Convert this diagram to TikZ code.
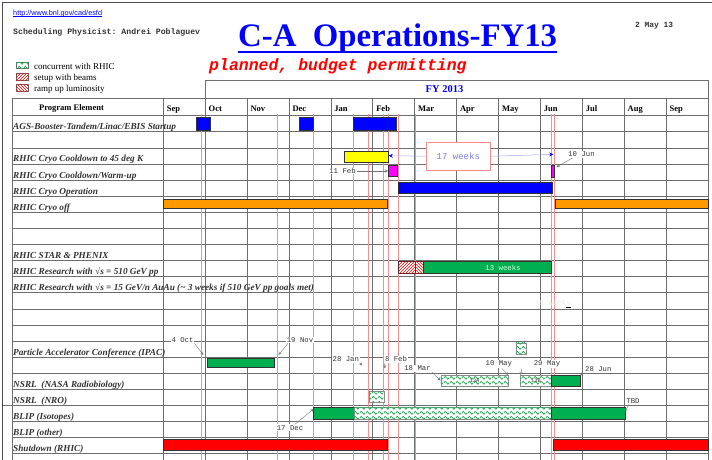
\documentclass[tikz,border=0pt]{standalone}
\usepackage{fontspec}
\setmainfont{Liberation Serif}
\setsansfont{Liberation Sans}
\setmonofont{Liberation Mono}
\usetikzlibrary{patterns,arrows.meta}

\definecolor{barblue}{HTML}{0000FF}
\definecolor{baryellow}{HTML}{FFFF00}
\definecolor{barmagenta}{HTML}{FF00FF}
\definecolor{barorange}{HTML}{FF9900}
\definecolor{bargreen}{HTML}{00B050}
\definecolor{barred}{HTML}{FF0000}
\definecolor{gridgray}{HTML}{6E6E6E}
\definecolor{daterule}{HTML}{FF8C8C}
\definecolor{wavegreen}{HTML}{2EAA5A}
\definecolor{weekblue}{HTML}{7F7FF0}
\definecolor{boxpink}{HTML}{FF8A8A}

% 波纹图案（与 RHIC 并行）
\pgfdeclarepatternformonly{waves}{\pgfqpoint{0pt}{0pt}}{\pgfqpoint{6pt}{5pt}}{\pgfqpoint{6pt}{5pt}}{%
  \pgfsetlinewidth{0.9pt}%
  \pgfpathmoveto{\pgfqpoint{0pt}{2.5pt}}%
  \pgfpathcurveto{\pgfqpoint{1pt}{4.6pt}}{\pgfqpoint{2pt}{4.6pt}}{\pgfqpoint{3pt}{2.5pt}}%
  \pgfpathcurveto{\pgfqpoint{4pt}{0.4pt}}{\pgfqpoint{5pt}{0.4pt}}{\pgfqpoint{6pt}{2.5pt}}%
  \pgfusepath{stroke}%
}

\begin{document}
\begin{tikzpicture}[x=1pt, y=-1pt, >=stealth,
    grid/.style={gridgray, line width=0.7pt},
    dateline/.style={daterule, line width=0.5pt},
    ganttbar/.style={draw=black!80, line width=0.5pt},
    wavebar/.style={draw=black!45, line width=0.4pt, fill=white, postaction={pattern=waves, pattern color=wavegreen}},
    rowlabel/.style={anchor=base west, inner sep=0pt, text=black!80, font=\fontsize{9.25}{11}\selectfont\bfseries\itshape},
    monthlabel/.style={anchor=base west, inner sep=0pt, font=\fontsize{8.5}{10}\selectfont\bfseries},
    legendtext/.style={anchor=base west, inner sep=0pt, font=\fontsize{9}{10}\selectfont},
    datelabel/.style={fill=white, inner sep=0.8pt, text=black!80, font=\fontsize{7.3}{8}\selectfont\ttfamily},
    datearrow/.style={->, black!55, line width=0.4pt},
    weekarrow/.style={-{Stealth[length=4pt, width=4pt, color=barblue]}, weekblue!70, line width=0.5pt}]
				% 1. 外框与页眉
				\useasboundingbox (0,0) rectangle (712,460);
				\draw[black!70, line width=1.6pt] (2.5,460) -- (2.5,2.5) -- (712,2.5);
				\draw[grid] (2.5,405.5) -- (12,405.5);
				
				\node[anchor=base west, inner sep=0pt, text=barblue, font=\sffamily\fontsize{7.3}{8}\selectfont] (url) at (13,15.5) {http://www.bnl.gov/cad/esfd};
				\draw[barblue, line width=0.4pt] ([yshift=-1.2pt]url.base west) -- ([yshift=-1.2pt]url.base east);
				\node[anchor=base west, inner sep=0pt, text=black!80, font=\ttfamily\bfseries\fontsize{8.2}{9}\selectfont] (physicist) at (13,34.5) {Scheduling Physicist: Andrei Poblaguev};
				\node[anchor=base west, inner sep=0pt, text=black!80, font=\ttfamily\bfseries\fontsize{7.9}{9}\selectfont] (issued) at (635,28) {2 May 13};
				
				\node[anchor=base west, inner sep=0pt, text=barblue, font=\fontsize{32.8}{34}\selectfont\bfseries] (title) at (238,46.7) {C-A\ \ Operations-FY13};
				\draw[barblue, line width=2pt] ([yshift=-5pt]title.base west) -- ([yshift=-5pt]title.base east);
				\node[anchor=base west, inner sep=0pt, text=barred, font=\ttfamily\bfseries\itshape\fontsize{16.5}{18}\selectfont] (subtitle) at (209,70.5) {planned, budget permitting};
				
				% 2. 图例
				\draw[wavebar, draw=black!60] (16,62.3) rectangle (28.3,68.3);
				\draw[draw=black!60, line width=0.4pt, fill=white, postaction={pattern=north east lines, pattern color=barred}] (16,73.3) rectangle (28.3,80);
				\draw[draw=black!60, line width=0.4pt, fill=white, postaction={pattern=north west lines, pattern color=barred}] (16,84.3) rectangle (28.3,91);
				\node[legendtext] (legconc) at (34,70) {concurrent with RHIC};
				\node[legendtext] (legsetup) at (34,81) {setup with beams};
				\node[legendtext] (legramp) at (34,92) {ramp up luminosity};
				
				% 3. 表格网格
				\draw[grid] (205.2,98.3) -- (205.2,80.7) -- (708,80.7) -- (708,98.3);
				\node[inner sep=0pt, text=barblue, font=\fontsize{10.5}{12}\selectfont\bfseries] (fy) at (444.5,89.3) {FY 2013};
				\draw[grid] (12,98.3) -- (708,98.3);
				\foreach \k in {0,...,21}
					\draw[grid] (12,{115.7+16.1*\k}) -- (708,{115.7+16.1*\k});
				\draw[grid] (12,98.3) -- (12,460);
				\foreach \k in {0,...,13}
					\draw[grid] ({163.3+41.9*\k},98.3) -- ({163.3+41.9*\k},460);
				
				\node[monthlabel, anchor=base] (progel) at (71.5,110.5) {Program Element};
				\foreach \m [count=\k from 0] in {Sep,Oct,Nov,Dec,Jan,Feb,Mar,Apr,May,Jun,Jul,Aug,Sep}
					\node[monthlabel] (month\k) at ({166.6+41.9*\k},111) {\m};
				
				% 4. 红色日期竖线
				\foreach \d in {201,277.3,313.3,353.3,368.3,383.5,388,398.3,415,551.5,554.5}
					\draw[dateline] (\d,114) -- (\d,460);
				
				% 5. 行标题
				\node[rowlabel] (rowags) at (13,129.7) {AGS-Booster-Tandem/Linac/EBIS Startup};
				\node[rowlabel] (rowcool) at (13,161.9) {RHIC Cryo Cooldown to 45 deg K};
				\node[rowlabel] (rowwarm) at (13,178) {RHIC Cryo Cooldown/Warm-up};
				\node[rowlabel] (rowop) at (13,194.1) {RHIC Cryo Operation};
				\node[rowlabel] (rowoff) at (13,210.2) {RHIC Cryo off};
				\node[rowlabel] (rowstar) at (13,258.5) {RHIC STAR \& PHENIX};
				\node[rowlabel] (rowpp) at (13,274.6) {RHIC Research with √s = 510 GeV pp};
				\node[rowlabel] (rowauau) at (13,290.7) {RHIC Research with √s = 15 GeV/n AuAu (\textasciitilde{} 3 weeks if 510 GeV pp goals met)};
				\node[rowlabel] (rowipac) at (13,355.1) {Particle Accelerator Conference (IPAC)};
				\node[rowlabel] (rownasa) at (13,387.3) {NSRL\ \ (NASA Radiobiology)};
				\node[rowlabel] (rownro) at (13,403.4) {NSRL\ \ (NRO)};
				\node[rowlabel] (rowiso) at (13,419.5) {BLIP (Isotopes)};
				\node[rowlabel] (rowother) at (13,435.6) {BLIP (other)};
				\node[rowlabel] (rowshut) at (13,451.7) {Shutdown (RHIC)};
				
				% 6. 运行条
				\draw[ganttbar, fill=barblue] (196,117.5) rectangle (210.5,130);
				\draw[ganttbar, fill=barblue] (299,117.5) rectangle (313.3,130);
				\draw[ganttbar, fill=barblue] (353.3,117.5) rectangle (396.7,130);
				\draw[ganttbar, fill=baryellow] (344,151) rectangle (388.3,162.3);
				\draw[ganttbar, fill=barmagenta] (388.3,165) rectangle (397.7,176.5);
				\draw[ganttbar, fill=barmagenta] (551,165.5) rectangle (554.5,177.5);
				\draw[ganttbar, fill=barblue] (398.3,182.7) rectangle (552.3,193.3);
				\draw[ganttbar, fill=barorange] (163.5,199) rectangle (387.7,208.7);
				\draw[ganttbar, fill=barorange] (555,199) rectangle (708.3,208.7);
				
				\draw[ganttbar, fill=white, postaction={pattern=north east lines, pattern color=barred}] (398.3,261.7) rectangle (415,273.3);
				\draw[ganttbar, fill=white, postaction={pattern=north west lines, pattern color=barred}] (415,261.7) rectangle (423.3,273.3);
				\draw[ganttbar, fill=bargreen] (423.3,261.7) rectangle (551.7,273.3);
				\node[text=green!12!white, font=\fontsize{7.3}{8}\selectfont\ttfamily, inner sep=0pt] (pp13) at (503,267.5) {13 weeks};
				\node[text=black!9, font=\fontsize{7.3}{8}\selectfont\ttfamily, inner sep=0pt] (auau15) at (553,302.5) {15 weeks};
				\draw[black, line width=0.9pt] (566,307.7) -- (571,307.7);
				
				\draw[wavebar] (515.7,342.7) rectangle (525.7,354);
				\draw[ganttbar, fill=bargreen] (207.3,358.3) rectangle (274.3,367.3);
				\draw[wavebar] (440.7,375) rectangle (508.3,386);
				\draw[wavebar] (520,375) rectangle (551.7,386);
				\draw[ganttbar, fill=bargreen] (551.7,375) rectangle (580,386);
				\node[text=black!75, font=\fontsize{5.5}{6}\selectfont\ttfamily, inner sep=0pt] (nasa13a) at (474.5,380.5) {13A};
				\node[text=black!75, font=\fontsize{5.5}{6}\selectfont\ttfamily, inner sep=0pt] (nasa13b) at (536,380.5) {13B};
				\draw[wavebar] (369.3,391) rectangle (384,401.7);
				\draw[ganttbar, fill=bargreen] (313.5,407.3) rectangle (354,419);
				\draw[wavebar] (354,407.3) rectangle (551.7,419);
				\draw[ganttbar, fill=bargreen] (551.7,407.3) rectangle (625,419);
				\draw[ganttbar, fill=barred] (163.3,439.3) rectangle (387.3,450.7);
				\draw[ganttbar, fill=barred] (553.3,439.3) rectangle (708.3,450.7);
				
				% 7. 17 周标注
				\node[draw=boxpink, fill=white, line width=0.6pt, minimum width=64.7pt, minimum height=27.7pt, text=weekblue, font=\fontsize{9}{10}\selectfont\ttfamily] (weeksbox) at (458.3,156.2) {17 weeks};
				\coordinate (yellowend) at (388.8,155.7);
				\coordinate (junmark) at (553.3,154.4);
				\draw[weekarrow] (weeksbox.west) -- (yellowend);
				\draw[weekarrow] (weeksbox.east) -- (junmark);
				
				% 8. 日期标签与箭头
				\node[datelabel] (lbljun) at (581.5,154.5) {10 Jun};
				\coordinate (tipjun) at (556.5,167);
				\draw[datearrow] ([xshift=-9pt]lbljun.south) -- (tipjun);
				\node[datelabel] (lblfeb) at (342.5,171) {11 Feb};
				\coordinate (tipfeb) at (388,171);
				\draw[datearrow] (lblfeb.east) -- (tipfeb);
				\node[datelabel] (lbloct) at (182.5,340) {4 Oct};
				\coordinate (tipoct) at (203.5,355);
				\draw[datearrow] (lbloct.south east) -- (tipoct);
				\node[datelabel] (lblnov) at (300,340) {19 Nov};
				\coordinate (tipnov) at (278.5,355);
				\draw[datearrow] ([xshift=2pt]lblnov.south west) -- (tipnov);
				\node[datelabel] (lbljan) at (345.8,359.3) {28 Jan};
				\coordinate (tipjan) at (362,365.5);
				\draw[datearrow] (lbljan.south east) -- (tipjan);
				\node[datelabel] (lblfebb) at (396,359.3) {8 Feb};
				\coordinate (tipfebb) at (385,368.5);
				\draw[datearrow] (lblfebb.south west) -- (tipfebb);
				\node[datelabel] (lblmar) at (417.5,368.3) {18 Mar};
				\coordinate (tipmar) at (440.5,380.5);
				\draw[datearrow] (lblmar.south east) -- (tipmar);
				\node[datelabel] (lblmay) at (498.8,364.3) {10 May};
				\coordinate (tipmay) at (508.3,375);
				\draw[datearrow] ([xshift=3pt]lblmay.south) -- (tipmay);
				\node[datelabel] (lblmayb) at (547,364.3) {29 May};
				\coordinate (tipmayb) at (520.5,375);
				\draw[datearrow] ([xshift=-11pt]lblmayb.south west) -- (tipmayb);
				\node[datelabel] (lbljunb) at (598.3,369.3) {28 Jun};
				\coordinate (tipjunb) at (580,375.5);
				\draw[datearrow] (lbljunb.south west) -- (tipjunb);
				\node[datelabel] (lbldec) at (290,427.7) {17 Dec};
				\coordinate (tipdec) at (313.5,409);
				\draw[datearrow] ([xshift=5pt]lbldec.north) -- (tipdec);
				\node[datelabel] (lbltbd) at (633,401) {TBD};
				\coordinate (tiptbd) at (625,411.5);
				\draw[datearrow] ([xshift=-4pt]lbltbd.south) -- (tiptbd);
			\end{tikzpicture}
\end{document}
